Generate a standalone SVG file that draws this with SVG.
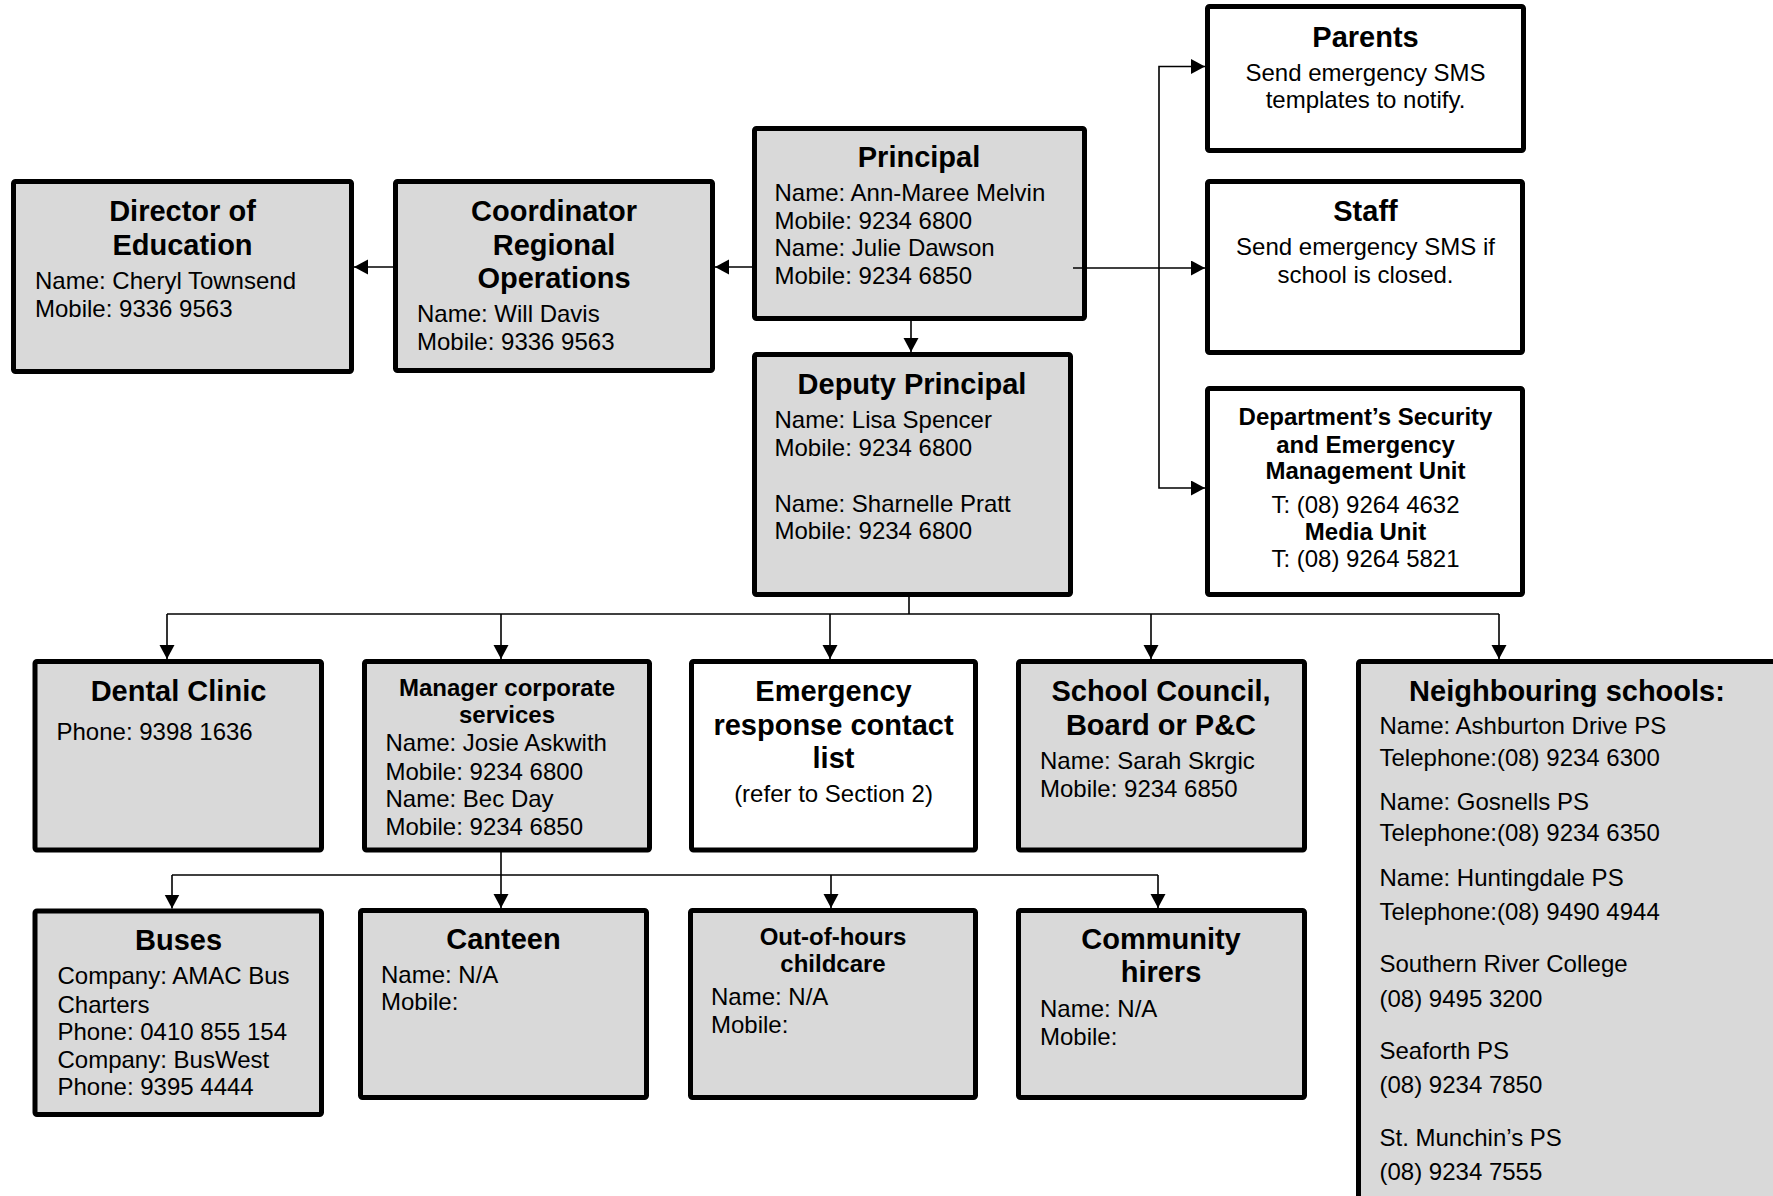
<svg xmlns="http://www.w3.org/2000/svg" width="1773" height="1196" viewBox="0 0 1773 1196">
<defs>
<marker id="ah" markerUnits="userSpaceOnUse" markerWidth="16" markerHeight="16" refX="14" refY="7.5" orient="auto">
<path d="M0,0 L14,7.5 L0,15 Z" fill="#000"/>
</marker>
<style>
.box{fill:#d9d9d9;stroke:#000;stroke-width:5}
.wbox{fill:#fff;stroke:#000;stroke-width:5}
.t{font-family:"Liberation Sans",Arial,sans-serif;font-size:24px;fill:#000}
.h{font-family:"Liberation Sans",Arial,sans-serif;font-size:29px;font-weight:bold;fill:#000;text-anchor:middle}
.hs{font-family:"Liberation Sans",Arial,sans-serif;font-size:24px;font-weight:bold;fill:#000;text-anchor:middle}
.c{text-anchor:middle}
.ln{fill:none;stroke:#000;stroke-width:1.6}
</style>
</defs>
<rect width="1773" height="1196" fill="#fff"/>

<g id="director">
<rect class="box" x="13.5" y="181.5" width="338" height="190" rx="2"/>
<text class="h" x="182.5" y="221">Director of</text>
<text class="h" x="182.5" y="255">Education</text>
<text class="t" x="35" y="289">Name: Cheryl Townsend</text>
<text class="t" x="35" y="317">Mobile: 9336 9563</text>
</g>

<g id="coordinator">
<rect class="box" x="395.5" y="181.5" width="317" height="189" rx="2"/>
<text class="h" x="554" y="221">Coordinator</text>
<text class="h" x="554" y="255">Regional</text>
<text class="h" x="554" y="288">Operations</text>
<text class="t" x="417" y="322">Name: Will Davis</text>
<text class="t" x="417" y="350">Mobile: 9336 9563</text>
</g>

<g id="principal">
<rect class="box" x="754.5" y="128.5" width="330" height="190" rx="2"/>
<text class="h" x="919" y="167">Principal</text>
<text class="t" x="774.5" y="201">Name: Ann-Maree Melvin</text>
<text class="t" x="774.5" y="229">Mobile: 9234 6800</text>
<text class="t" x="774.5" y="256">Name: Julie Dawson</text>
<text class="t" x="774.5" y="284">Mobile: 9234 6850</text>
</g>

<g id="deputy">
<rect class="box" x="754.5" y="354.5" width="316" height="240" rx="2"/>
<text class="h" x="912" y="394">Deputy Principal</text>
<text class="t" x="774.5" y="428">Name: Lisa Spencer</text>
<text class="t" x="774.5" y="456">Mobile: 9234 6800</text>
<text class="t" x="774.5" y="512">Name: Sharnelle Pratt</text>
<text class="t" x="774.5" y="539">Mobile: 9234 6800</text>
</g>

<g id="parents">
<rect class="wbox" x="1207.5" y="6.5" width="316" height="144" rx="2"/>
<text class="h" x="1365.5" y="47">Parents</text>
<text class="t c" x="1365.5" y="81">Send emergency SMS</text>
<text class="t c" x="1365.5" y="108">templates to notify.</text>
</g>

<g id="staff">
<rect class="wbox" x="1207.5" y="181.5" width="315" height="171" rx="2"/>
<text class="h" x="1365.5" y="221">Staff</text>
<text class="t c" x="1365.5" y="255">Send emergency SMS if</text>
<text class="t c" x="1365.5" y="283">school is closed.</text>
</g>

<g id="department">
<rect class="wbox" x="1207.5" y="388.5" width="315" height="206" rx="2"/>
<text class="hs" x="1365.5" y="425">Department’s Security</text>
<text class="hs" x="1365.5" y="453">and Emergency</text>
<text class="hs" x="1365.5" y="479">Management Unit</text>
<text class="t c" x="1365.5" y="513">T: (08) 9264 4632</text>
<text class="hs" x="1365.5" y="540">Media Unit</text>
<text class="t c" x="1365.5" y="567">T: (08) 9264 5821</text>
</g>

<g id="dental">
<rect class="box" x="35" y="661.5" width="286.5" height="188.5" rx="2"/>
<text class="h" x="178.5" y="701">Dental Clinic</text>
<text class="t" x="56.5" y="740">Phone: 9398 1636</text>
</g>

<g id="manager">
<rect class="box" x="364.5" y="661.5" width="285" height="188.5" rx="2"/>
<text class="hs" x="507" y="696">Manager corporate</text>
<text class="hs" x="507" y="723">services</text>
<text class="t" x="385.5" y="751">Name: Josie Askwith</text>
<text class="t" x="385.5" y="780">Mobile: 9234 6800</text>
<text class="t" x="385.5" y="807">Name: Bec Day</text>
<text class="t" x="385.5" y="835">Mobile: 9234 6850</text>
</g>

<g id="emergency">
<rect class="wbox" x="691.5" y="661.5" width="284" height="188.5" rx="2"/>
<text class="h" x="833.5" y="701">Emergency</text>
<text class="h" x="833.5" y="735">response contact</text>
<text class="h" x="833.5" y="768">list</text>
<text class="t c" x="833.5" y="802">(refer to Section 2)</text>
</g>

<g id="council">
<rect class="box" x="1018.5" y="661.5" width="286" height="188.5" rx="2"/>
<text class="h" x="1161" y="701">School Council,</text>
<text class="h" x="1161" y="735">Board or P&amp;C</text>
<text class="t" x="1040" y="769">Name: Sarah Skrgic</text>
<text class="t" x="1040" y="797">Mobile: 9234 6850</text>
</g>

<g id="neighbouring">
<rect class="box" x="1358.5" y="661.5" width="430" height="560" rx="2"/>
<text class="h" x="1567" y="701">Neighbouring schools:</text>
<text class="t" x="1379.5" y="734">Name: Ashburton Drive PS</text>
<text class="t" x="1379.5" y="766">Telephone:(08) 9234 6300</text>
<text class="t" x="1379.5" y="810">Name: Gosnells PS</text>
<text class="t" x="1379.5" y="841">Telephone:(08) 9234 6350</text>
<text class="t" x="1379.5" y="886">Name: Huntingdale PS</text>
<text class="t" x="1379.5" y="920">Telephone:(08) 9490 4944</text>
<text class="t" x="1379.5" y="972">Southern River College</text>
<text class="t" x="1379.5" y="1007">(08) 9495 3200</text>
<text class="t" x="1379.5" y="1059">Seaforth PS</text>
<text class="t" x="1379.5" y="1093">(08) 9234 7850</text>
<text class="t" x="1379.5" y="1146">St. Munchin’s PS</text>
<text class="t" x="1379.5" y="1180">(08) 9234 7555</text>
</g>

<g id="buses">
<rect class="box" x="35" y="911" width="286.5" height="203.5" rx="2"/>
<text class="h" x="178.5" y="950">Buses</text>
<text class="t" x="57.5" y="984">Company: AMAC Bus</text>
<text class="t" x="57.5" y="1013">Charters</text>
<text class="t" x="57.5" y="1040">Phone: 0410 855 154</text>
<text class="t" x="57.5" y="1068">Company: BusWest</text>
<text class="t" x="57.5" y="1095">Phone: 9395 4444</text>
</g>

<g id="canteen">
<rect class="box" x="360.5" y="910.5" width="286" height="187" rx="2"/>
<text class="h" x="503.5" y="949">Canteen</text>
<text class="t" x="381" y="983">Name: N/A</text>
<text class="t" x="381" y="1010">Mobile:</text>
</g>

<g id="outofhours">
<rect class="box" x="690.5" y="910.5" width="285" height="187" rx="2"/>
<text class="hs" x="833" y="945">Out-of-hours</text>
<text class="hs" x="833" y="972">childcare</text>
<text class="t" x="711" y="1005">Name: N/A</text>
<text class="t" x="711" y="1033">Mobile:</text>
</g>

<g id="community">
<rect class="box" x="1018.5" y="910.5" width="286" height="187" rx="2"/>
<text class="h" x="1161" y="949">Community</text>
<text class="h" x="1161" y="982">hirers</text>
<text class="t" x="1040" y="1017">Name: N/A</text>
<text class="t" x="1040" y="1045">Mobile:</text>
</g>

<g id="connectors">
<path class="ln" d="M393,267 H354" marker-end="url(#ah)"/>
<path class="ln" d="M752,267 H715" marker-end="url(#ah)"/>
<path class="ln" d="M911,321 V352" marker-end="url(#ah)"/>
<path class="ln" d="M1073,268 H1205" marker-end="url(#ah)"/>
<path class="ln" d="M1159,268 V66.5 H1205" marker-end="url(#ah)"/>
<path class="ln" d="M1159,268 V488 H1205" marker-end="url(#ah)"/>
<path class="ln" d="M909,597 V614"/>
<path class="ln" d="M167,614 H1499"/>
<path class="ln" d="M167,614 V659" marker-end="url(#ah)"/>
<path class="ln" d="M501,614 V659" marker-end="url(#ah)"/>
<path class="ln" d="M830,614 V659" marker-end="url(#ah)"/>
<path class="ln" d="M1151,614 V659" marker-end="url(#ah)"/>
<path class="ln" d="M1499,614 V659" marker-end="url(#ah)"/>
<path class="ln" d="M501,852 V875"/>
<path class="ln" d="M172,875 H1158"/>
<path class="ln" d="M172,875 V908.5" marker-end="url(#ah)"/>
<path class="ln" d="M501,875 V908" marker-end="url(#ah)"/>
<path class="ln" d="M831,875 V908" marker-end="url(#ah)"/>
<path class="ln" d="M1158,875 V908" marker-end="url(#ah)"/>
</g>
</svg>
